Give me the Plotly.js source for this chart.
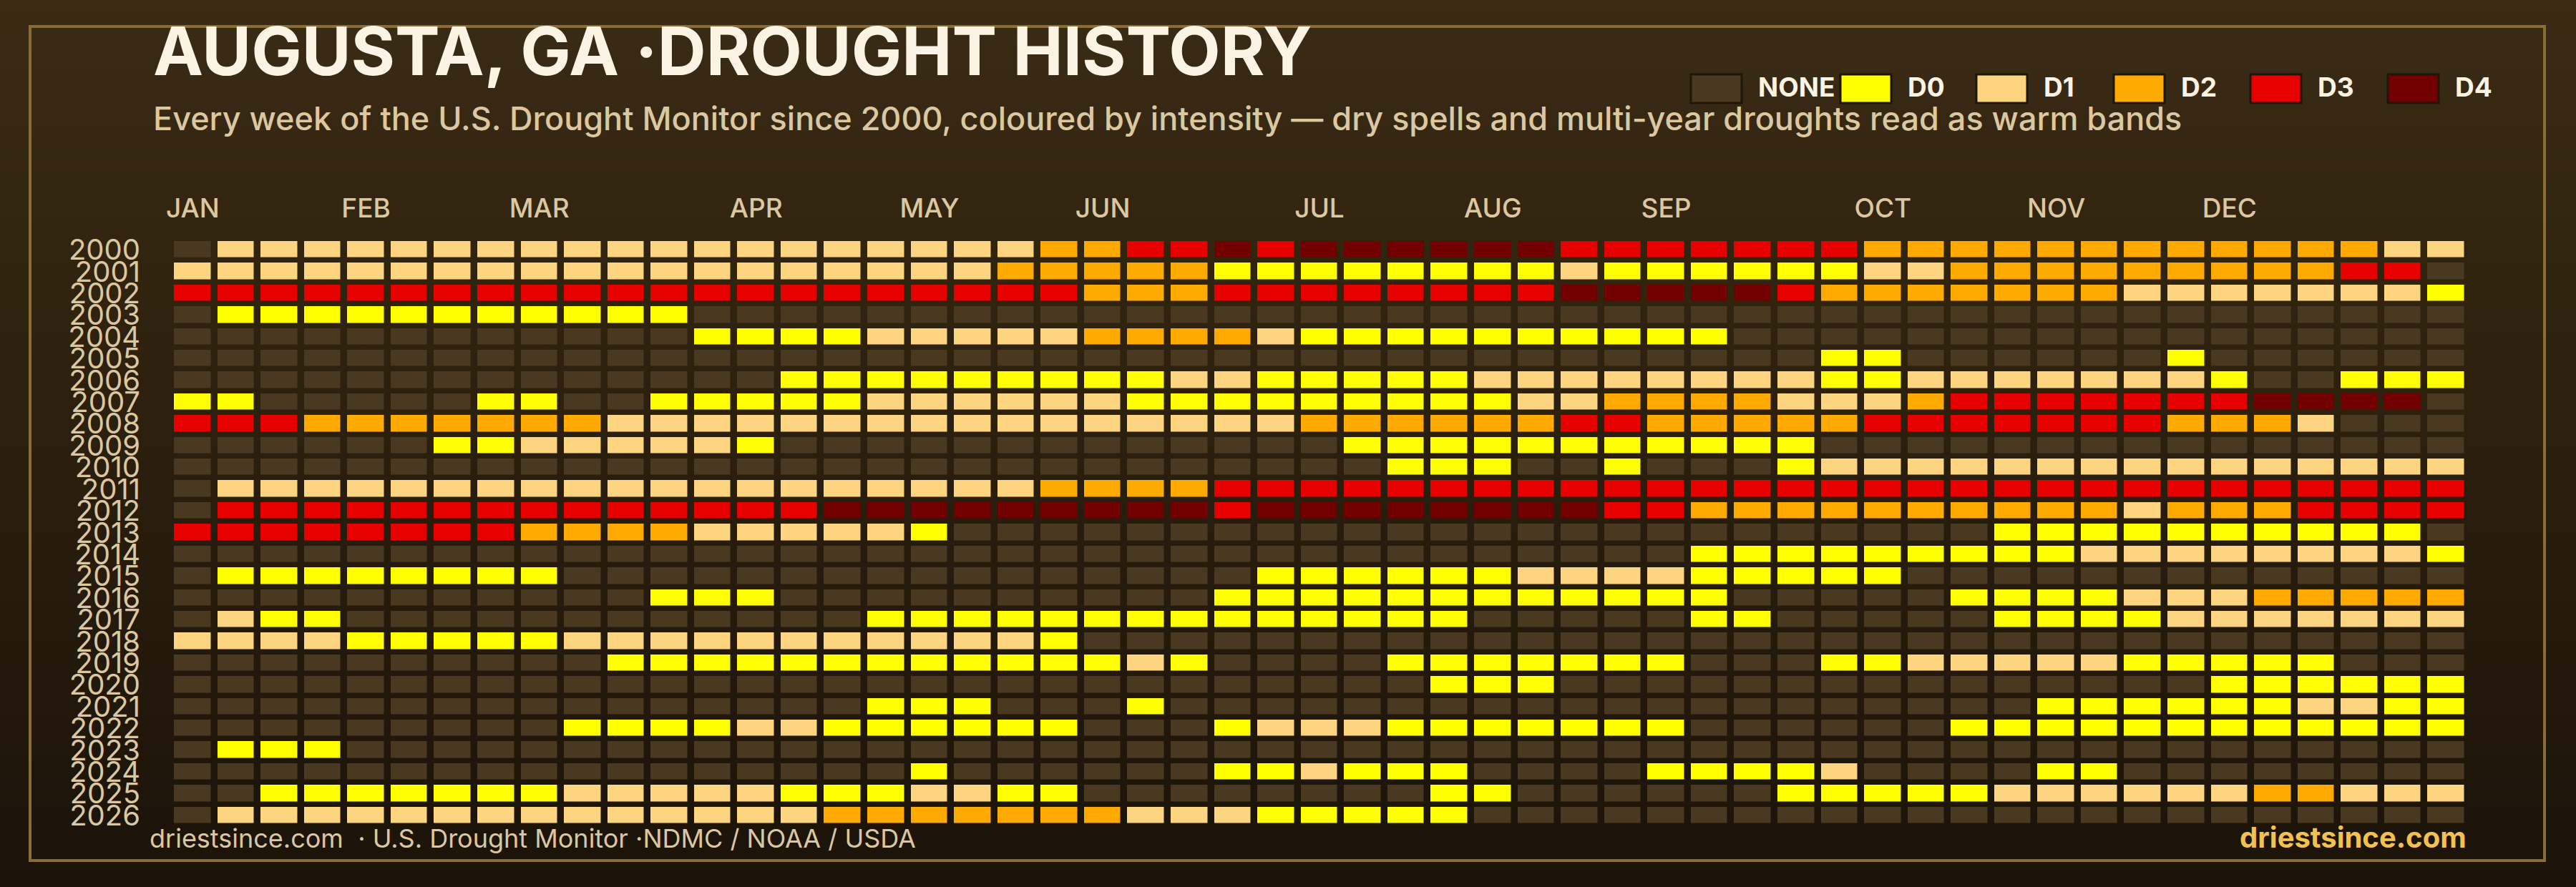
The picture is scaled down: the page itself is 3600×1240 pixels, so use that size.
<!DOCTYPE html>
<html>
<head>
<meta charset="utf-8">
<script src="https://cdn.plot.ly/plotly-3.0.1.min.js"></script>
<style>
  html, body { margin: 0; padding: 0; width: 3600px; height: 1240px; overflow: hidden;
    background: linear-gradient(180deg, #3a2b15 0%, #31240f 30%, #1b1309 100%); }
  #chart { width: 3600px; height: 1240px; }
</style>
</head>
<body>
<div id="chart"></div>
<script>
// ---------------- DATA ----------------
const years = [2000, 2001, 2002, 2003, 2004, 2005, 2006, 2007, 2008, 2009, 2010, 2011, 2012, 2013,
               2014, 2015, 2016, 2017, 2018, 2019, 2020, 2021, 2022, 2023, 2024, 2025, 2026];
const weeks = [1, 2, 3, 4, 5, 6, 7, 8, 9, 10, 11, 12, 13, 14, 15, 16, 17, 18, 19, 20, 21, 22, 23, 24, 25, 26,
               27, 28, 29, 30, 31, 32, 33, 34, 35, 36, 37, 38, 39, 40, 41, 42, 43, 44, 45, 46, 47, 48, 49, 50, 51, 52, 53];
const monthLabels = ['JAN', 'FEB', 'MAR', 'APR', 'MAY', 'JUN', 'JUL', 'AUG', 'SEP', 'OCT', 'NOV', 'DEC'];
const monthStartWeeks = [1, 5, 9, 14, 18, 22, 27, 31, 35, 40, 44, 48];
const categoryNames = ['NONE', 'D0', 'D1', 'D2', 'D3', 'D4'];
const categoryColors = ['#483920', '#ffff00', '#fdd47f', '#ffaa00', '#e60000', '#730000'];
// weekly intensity per year: '.' none, '0' D0, '1' D1, '2' D2, '3' D3, '4' D4 ('|' separates 10-week groups)
const weeklyIntensity = [
  '.111111111|1111111111|2233434444|4433333332|2222222222|211', // 2000
  '1111111111|1111111112|2222000000|0010000001|1222222222|33.', // 2001
  '3333333333|3333333333|3222333333|3344444322|2222211111|110', // 2002
  '.000000000|00........|..........|..........|..........|...', // 2003
  '..........|..00001111|1222210000|000000....|..........|...', // 2004
  '..........|..........|..........|........00|......0...|...', // 2005
  '..........|....000000|0001100000|1111111100|11111110..|000', // 2006
  '00.....00.|.000001111|1100000000|0112222111|2333333344|44.', // 2007
  '3332222222|1111111111|1111112222|2233222223|3333332221|...', // 2008
  '......0011|1110......|.......000|00000000..|..........|...', // 2009
  '..........|..........|........00|0..0...011|1111111111|111', // 2010
  '.111111111|1111111111|2222333333|3333333333|3333333333|333', // 2011
  '.333333333|3333344444|4444344444|4443322222|2222212223|333', // 2012
  '3333333322|22111110..|..........|..........|..00000000|00.', // 2013
  '..........|..........|..........|.....00000|0000111111|110', // 2014
  '.00000000.|..........|.....00000|0111100000|..........|...', // 2015
  '..........|.000......|....000000|000000....|.000011122|222', // 2016
  '.100......|......0000|0000000000|.....00...|..00001111|111', // 2017
  '1111000001|1111111111|0.........|..........|..........|...', // 2018
  '..........|0000000000|0010....00|00000...00|1111100000|...', // 2019
  '..........|..........|.........0|00........|.......000|000', // 2020
  '..........|......000.|..0.......|..........|...0000001|100', // 2021
  '.........0|0001100000|0...011100|00000.....|.000000000|000', // 2022
  '.000......|..........|..........|..........|..........|...', // 2023
  '..........|.......0..|....001000|....00001.|...00.....|...', // 2024
  '..00000001|1111000110|0........0|0......000|0011111122|111', // 2025
  '.111111111|1111122222|2211100000|..........|..........|...'  // 2026
];
const codeValue = { '.': 0, '0': 1, '1': 2, '2': 3, '3': 4, '4': 5 };

// ---------------- BUILD ----------------
const z = weeklyIntensity.map(r => r.replace(/\|/g, '').split('').map(ch => codeValue[ch]));
z.forEach((row, i) => { if (row.length !== 53) console.error('row length', years[i], row.length); });

const n = categoryColors.length;
const colorscale = [];
categoryColors.forEach((c, i) => { colorscale.push([i / n, c]); colorscale.push([(i + 1) / n, c]); });

const W = 3600, H = 1240;
const PL = 239, PR = 3449, PT = 334, PB = 1155;
const px = v => (v - PL) / (PR - PL);
const py = v => (PB - v) / (PB - PT);

const FONT = 'Inter, "Noto Sans", "DejaVu Sans", sans-serif';
const CREAM = '#fbf3e3', TAN = '#dcc8a0', GOLD = '#f2c14f';

const trace = {
  type: 'heatmap',
  x: weeks, y: years, z: z,
  zmin: -0.5, zmax: n - 0.5,
  colorscale: colorscale, showscale: false,
  xgap: 9.5, ygap: 7.5,
  hoverinfo: 'skip'
};

const shapes = [
  { type: 'rect', xref: 'paper', yref: 'paper', x0: px(42), x1: px(3556), y0: py(37), y1: py(1203),
    line: { color: '#8a6c35', width: 4 }, fillcolor: 'rgba(0,0,0,0)', layer: 'below' }
];
const annotations = [
  { text: 'AUGUSTA, GA ·DROUGHT HISTORY', xref: 'paper', yref: 'paper', x: px(212), y: py(71),
    xanchor: 'left', yanchor: 'middle', showarrow: false,
    font: { family: FONT, size: 94, color: CREAM, weight: 700 } },
  { text: 'Every week of the U.S. Drought Monitor since 2000, coloured by intensity — dry spells and multi-year droughts read as warm bands',
    xref: 'paper', yref: 'paper', x: px(212), y: py(165), xanchor: 'left', yanchor: 'middle', showarrow: false,
    font: { family: FONT, size: 45, color: TAN, weight: 500 } },
  { text: 'driestsince.com  · U.S. Drought Monitor ·NDMC / NOAA / USDA', xref: 'paper', yref: 'paper',
    x: px(207), y: py(1172), xanchor: 'left', yanchor: 'middle', showarrow: false,
    font: { family: FONT, size: 36, color: TAN } },
  { text: 'driestsince.com', xref: 'paper', yref: 'paper', x: px(3449), y: py(1170),
    xanchor: 'right', yanchor: 'middle', showarrow: false,
    font: { family: FONT, size: 40, color: GOLD, weight: 700 } }
];
const swatchLeft = [2363, 2572, 2762, 2954, 3145, 3337];
categoryNames.forEach((name, i) => {
  const x0 = swatchLeft[i];
  shapes.push({ type: 'rect', xref: 'paper', yref: 'paper', x0: px(x0), x1: px(x0 + 71), y0: py(104), y1: py(144),
    fillcolor: categoryColors[i], line: { color: '#1f160a', width: 3 } });
  annotations.push({ text: name, xref: 'paper', yref: 'paper', x: px(x0 + 92), y: py(121),
    xanchor: 'left', yanchor: 'middle', showarrow: false,
    font: { family: FONT, size: 37, color: CREAM, weight: 700 } });
});

const layout = {
  width: W, height: H,
  margin: { l: PL, r: W - PR, t: PT, b: H - PB, pad: 0 },
  paper_bgcolor: 'rgba(0,0,0,0)', plot_bgcolor: 'rgba(0,0,0,0)',
  showlegend: false,
  xaxis: { side: 'top', range: [0.5, 53.5], tickmode: 'array', tickvals: monthStartWeeks, ticktext: monthLabels,
    ticks: '', ticklabelstandoff: 22, showgrid: false, zeroline: false, showline: false, fixedrange: true,
    tickfont: { family: FONT, size: 37, color: TAN, weight: 500 } },
  yaxis: { range: [2026.5, 1999.5], tickmode: 'array', tickvals: years, ticktext: years.map(String),
    ticks: '', ticklabelstandoff: 42, showgrid: false, zeroline: false, showline: false, fixedrange: true,
    tickfont: { family: FONT, size: 40, color: TAN } },
  shapes: shapes, annotations: annotations
};

Plotly.newPlot('chart', [trace], layout, { displayModeBar: false, staticPlot: true });
</script>
</body>
</html>
